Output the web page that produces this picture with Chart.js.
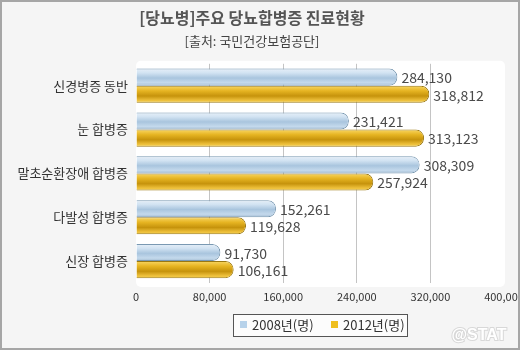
<!DOCTYPE html>
<html>
<head>
<meta charset="utf-8">
<script src="https://cdn.jsdelivr.net/npm/chart.js@4.4.0/dist/chart.umd.min.js"></script>
<style>
  body { margin: 0; background: #f5f5f5; }
  #wrap { width: 520px; height: 350px; position: relative; }
</style>
</head>
<body>
<div id="wrap"><canvas id="chart"></canvas></div>
<script>
// data
const categories = ['신경병증 동반', '눈 합병증', '말초순환장애 합병증', '다발성 합병증', '신장 합병증'];
const seriesNames = ['2008년(명)', '2012년(명)'];
const values2008 = [284130, 231421, 308309, 152261, 91730];
const values2012 = [318812, 313123, 257924, 119628, 106161];
const xTicks = [0, 80000, 160000, 240000, 320000, 400000];

const FONT = "'Noto Sans CJK KR', 'Noto Sans', sans-serif";
const CAT = 0.78;

const blueStops = [[0, '#e6eff8'], [0.25, '#d2e3f2'], [0.55, '#a9c5de'], [0.82, '#c4d9ec'], [1, '#a3bcd2']];
const goldStops = [[0, '#f9d764'], [0.3, '#e6b422'], [0.6, '#c6930c'], [0.85, '#edbf3a'], [1, '#f4d050']];

function barFill(ctx, stops) {
    const chart = ctx.chart;
    const y = chart.scales && chart.scales.y;
    if (!y || ctx.dataIndex === undefined) return stops[2][1];
    const c = y.getPixelForValue(ctx.dataIndex);
    const band = Math.abs(y.getPixelForValue(1) - y.getPixelForValue(0));
    if (!isFinite(c) || !isFinite(band) || band === 0) return stops[2][1];
    const t = band * CAT / 2;
    const top = ctx.datasetIndex === 0 ? c - t : c;
    const g = chart.ctx.createLinearGradient(0, top, 0, top + t);
    stops.forEach(s => g.addColorStop(s[0], s[1]));
    return g;
}

const fmt = v => v.toLocaleString('en-US');

// background, white plot panel and outer frame
const backdrop = {
    id: 'backdrop',
    beforeDraw(chart) {
        const {ctx, chartArea: a} = chart;
        ctx.save();
        ctx.fillStyle = '#f5f5f5';
        ctx.fillRect(0, 0, chart.width, chart.height);
        ctx.fillStyle = '#ffffff';
        ctx.beginPath();
        ctx.roundRect(a.left, a.top - 3, a.right - a.left + 1, a.bottom - a.top + 7, 5);
        ctx.fill();
        ctx.restore();
    },
    afterDraw(chart) {
        const ctx = chart.ctx;
        ctx.save();
        ctx.strokeStyle = '#a6a6a6';
        ctx.lineWidth = 2;
        ctx.strokeRect(1, 1, chart.width - 2, chart.height - 2);

        // legend box
        const lx = 233.5, ly = 314.5;
        ctx.fillStyle = '#fcfcfc';
        ctx.fillRect(lx, ly, 174, 22);
        ctx.strokeStyle = '#555';
        ctx.lineWidth = 1;
        ctx.strokeRect(lx, ly, 174, 22);
        const sw = ['#b7d2ea', '#efbf1f'];
        const xs = [240, 331];
        ctx.font = '13px ' + FONT;
        ctx.textBaseline = 'middle';
        ctx.textAlign = 'left';
        chart.data.datasets.forEach((ds, i) => {
            ctx.fillStyle = sw[i];
            ctx.fillRect(xs[i], 321, 7, 7);
            ctx.fillStyle = '#333';
            ctx.fillText(ds.label, xs[i] + 12, 325);
        });

        // watermark
        ctx.font = "bold 16px 'Liberation Sans', Arial, sans-serif";
        ctx.textAlign = 'center';
        ctx.lineWidth = 2;
        ctx.strokeStyle = '#d8d8d8';
        ctx.strokeText('@STAT', 479, 336);
        ctx.fillStyle = '#ffffff';
        ctx.fillText('@STAT', 479, 336);
        ctx.restore();
    }
};

// value labels at bar ends
const valueLabels = {
    id: 'valueLabels',
    afterDatasetsDraw(chart) {
        const ctx = chart.ctx;
        ctx.save();
        ctx.font = '14px ' + FONT;
        ctx.fillStyle = '#4a4a4a';
        ctx.textAlign = 'left';
        ctx.textBaseline = 'middle';
        chart.data.datasets.forEach((ds, i) => {
            chart.getDatasetMeta(i).data.forEach((el, j) => {
                ctx.fillText(fmt(ds.data[j]), el.x + 4, el.y + 1);
            });
        });
        ctx.restore();
    }
};

new Chart(document.getElementById('chart'), {
    type: 'bar',
    data: {
        labels: categories,
        datasets: [{
            label: seriesNames[0],
            data: values2008,
            backgroundColor: ctx => barFill(ctx, blueStops),
            borderColor: '#7a99b2',
            borderWidth: 1,
            borderRadius: 8,
            borderSkipped: 'start'
        }, {
            label: seriesNames[1],
            data: values2012,
            backgroundColor: ctx => barFill(ctx, goldStops),
            borderColor: '#9a7812',
            borderWidth: 1,
            borderRadius: 8,
            borderSkipped: 'start'
        }]
    },
    options: {
        indexAxis: 'y',
        responsive: true,
        maintainAspectRatio: false,
        animation: false,
        categoryPercentage: CAT,
        barPercentage: 1,
        layout: { padding: { left: 0, right: 16, top: 0, bottom: 41 } },
        scales: {
            x: {
                min: 0,
                max: 400000,
                afterBuildTicks: s => { s.ticks = xTicks.map(v => ({value: v})); },
                afterFit: s => { s.height = 26; s.paddingLeft = 0; s.paddingRight = 0; },
                ticks: {
                    color: '#333',
                    padding: 7,
                    font: { family: FONT, size: 11 },
                    callback: v => fmt(v)
                },
                grid: {
                    drawTicks: false,
                    color: c => (c.index === 0 || c.index === xTicks.length - 1) ? 'rgba(0,0,0,0)' : '#c4c4c4'
                },
                border: { display: false }
            },
            y: {
                afterFit: s => { s.width = 136; s.paddingTop = 0; s.paddingBottom = 0; },
                ticks: {
                    color: '#333',
                    padding: 8,
                    font: { family: FONT, size: 13 }
                },
                grid: { display: false, drawTicks: false },
                border: { display: false }
            }
        },
        plugins: {
            legend: { display: false },
            tooltip: { enabled: false },
            title: {
                display: true,
                text: '[당뇨병]주요 당뇨합병증 진료현황',
                color: '#555',
                font: { family: FONT, size: 16, weight: 'bold' },
                padding: { top: 8, bottom: 3 }
            },
            subtitle: {
                display: true,
                text: '[출처: 국민건강보험공단]',
                color: '#444',
                font: { family: FONT, size: 13 },
                padding: { top: 3, bottom: 15 }
            }
        }
    },
    plugins: [backdrop, valueLabels]
});
</script>
</body>
</html>
